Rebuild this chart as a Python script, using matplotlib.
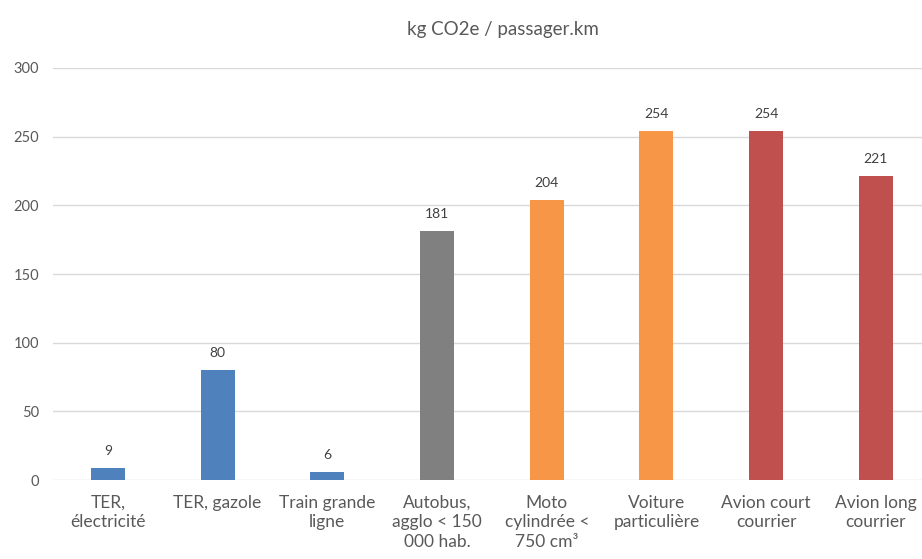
import numpy as np
import matplotlib.pyplot as plt

# Chart data
categories = [
    "TER,\nélectricité",
    "TER, gazole",
    "Train grande\nligne",
    "Autobus,\nagglo < 150\n000 hab.",
    "Moto\ncylindrée <\n750 cm³",
    "Voiture\nparticulière",
    "Avion court\ncourrier",
    "Avion long\ncourrier",
]
values = [9, 80, 6, 181, 204, 254, 254, 221]
bar_colors = ["#4F81BD", "#4F81BD", "#4F81BD", "#808080",
              "#F79646", "#F79646", "#C0504D", "#C0504D"]
y_ticks = [0, 50, 100, 150, 200, 250, 300]
title = "kg CO2e / passager.km"

plt.rcParams['font.family'] = ['Lato', 'DejaVu Sans']

fig = plt.figure(figsize=(9.22, 5.59), dpi=100)
ax = fig.add_axes([53 / 922, 79 / 559, 1 - 53 / 922, 412 / 559])

x = np.arange(len(categories))
ax.bar(x, values, width=0.31, color=bar_colors, zorder=3)

# value labels above each bar
for xi, v in zip(x, values):
    ax.annotate(f"{v}", (xi, v), xytext=(0, 8), textcoords="offset points",
                ha="center", va="bottom", fontsize=10, color="#404040")

ax.set_xlim(-0.5, 7.42)
ax.set_ylim(0, 300)
ax.set_yticks(y_ticks)
ax.set_xticks(x)
ax.set_xticklabels(categories, fontsize=12.5, color="#595959", linespacing=1.3)
ax.tick_params(axis='y', labelsize=10.5, labelcolor="#595959", length=0, pad=10)
ax.tick_params(axis='x', length=0, pad=10.5)

ax.grid(axis='y', color="#D9D9D9", linewidth=1, zorder=0)
for s in ax.spines.values():
    s.set_visible(False)

fig.text(503 / 922, 1 - 29 / 559, title, ha="center", va="center",
         fontsize=13.5, color="#595959")

fig.savefig("out.png", dpi=100)
